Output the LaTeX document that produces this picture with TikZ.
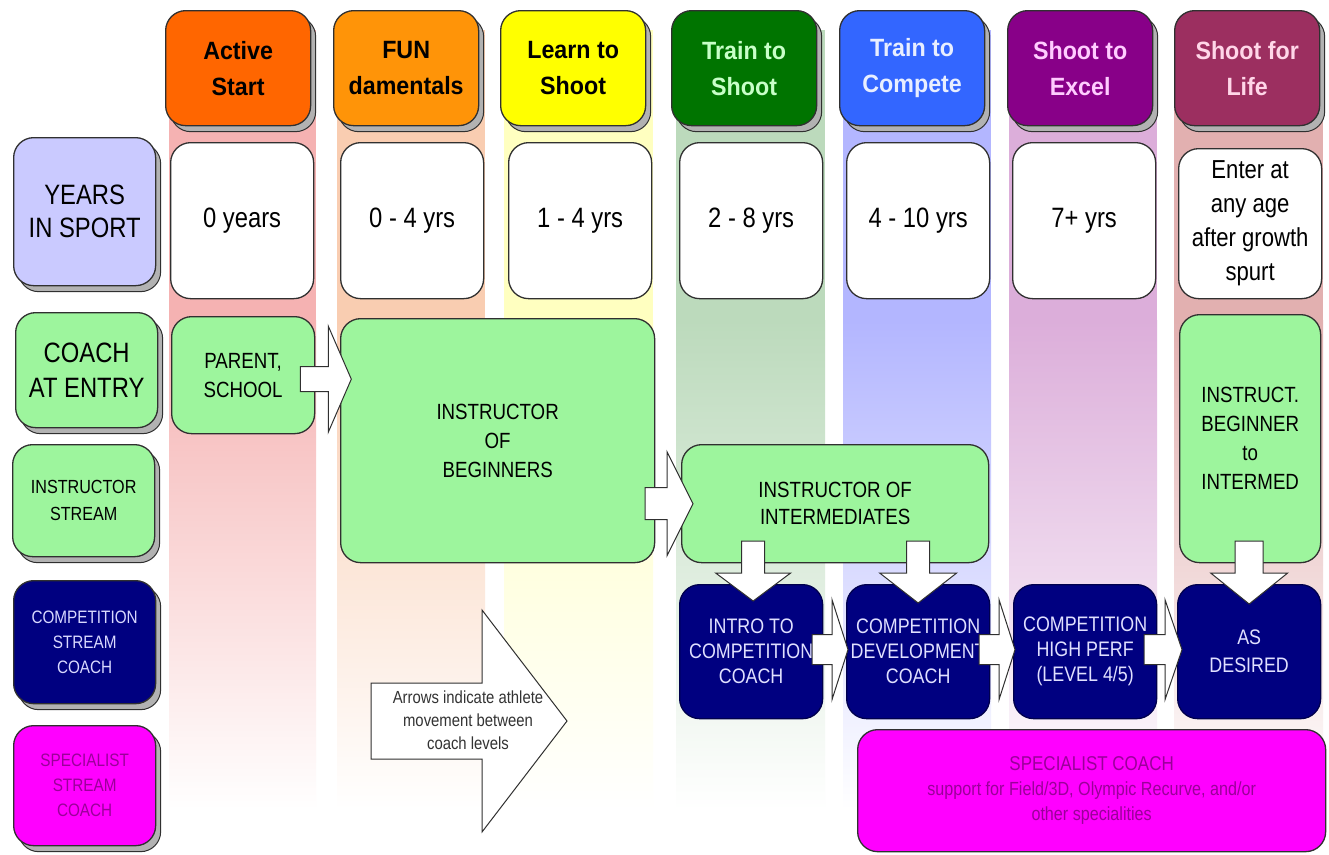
\documentclass[tikz,border=0pt]{standalone}
\usepackage{fontspec}
\setmainfont[FakeStretch=0.85]{Liberation Sans}
\newfontfamily\stagefont[FakeStretch=0.93]{Liberation Sans}
\usetikzlibrary{shadows,calc}

% palette
\definecolor{hdrA}{HTML}{FF6600}
\definecolor{hdrB}{HTML}{FF9408}
\definecolor{hdrC}{HTML}{FFFF00}
\definecolor{hdrD}{HTML}{007400}
\definecolor{hdrE}{HTML}{3366FF}
\definecolor{hdrF}{HTML}{880088}
\definecolor{hdrG}{HTML}{9C2F60}
\definecolor{txtD}{HTML}{C8FFC8}
\definecolor{txtE}{HTML}{E8EEFF}
\definecolor{txtF}{HTML}{FFCCFF}
\definecolor{txtG}{HTML}{FFD6E8}
\definecolor{stA}{HTML}{F5B2B2}
\definecolor{stB}{HTML}{F9CDB1}
\definecolor{stC}{HTML}{FFFFC0}
\definecolor{stD}{HTML}{BCDABC}
\definecolor{stE}{HTML}{B3B6FF}
\definecolor{stF}{HTML}{DCAEDA}
\definecolor{stG}{HTML}{E2B0B0}
\definecolor{lavender}{HTML}{CACAFF}
\definecolor{mint}{HTML}{9DF59D}
\definecolor{navy}{HTML}{000080}
\definecolor{magentabox}{HTML}{FF00FF}
\definecolor{plum}{HTML}{9A0099}
\definecolor{outline}{HTML}{303030}

% a vertical band behind one stage, fading out towards the bottom
\newcommand{\stageband}[3]{%
  \fill[#3] (#1,30) rectangle (#2,320);
  \shade[top color=#3, middle color=#3!55, bottom color=white] (#1,320) rectangle (#2,810);}

% block arrow: tip point, rotation, total length, head length, body half width, head half width
\newcommand{\flowarrow}[6]{%
  \begin{scope}[shift={(#1)}, rotate=#2]
    \draw[blockarrow] (0,0) -- (-#4,#6) -- (-#4,#5) -- (-#3,#5) -- (-#3,-#5)
      -- (-#4,-#5) -- (-#4,-#6) -- cycle;
  \end{scope}}

\tikzset{
  every node/.style={align=center, inner sep=0pt, anchor=north west},
  box/.style={draw=outline, line width=1.3pt, rounded corners=20pt},
  shadowed/.style={general shadow={fill=gray!60, draw=outline, line width=1pt,
      shadow xshift=5pt, shadow yshift=-6pt}},
  stage/.style={box, shadowed, minimum width=145pt, minimum height=115pt,
      font=\stagefont\fontsize{25}{36}\selectfont\bfseries},
  years/.style={box, fill=white, minimum width=143pt, minimum height=156pt,
      font=\fontsize{28}{34}\selectfont},
  rowlabel/.style={box, shadowed, minimum width=142pt},
  coachbox/.style={box, fill=mint, font=\fontsize{22}{29}\selectfont},
  compbox/.style={box, draw=navy!60!black, fill=navy, text=white!88!blue,
      minimum width=143pt, minimum height=134pt, font=\fontsize{21}{25}\selectfont},
  blockarrow/.style={draw=outline, line width=1pt, fill=white, line join=miter},
}

\begin{document}
\begin{tikzpicture}[x=1pt, y=-1pt]
\useasboundingbox (0,0) rectangle (1329,854);
\fill[white] (0,0) rectangle (1329,854);

% stage bands
\stageband{169}{316}{stA}
\stageband{337}{485}{stB}
\stageband{504}{653}{stC}
\stageband{676}{825}{stD}
\stageband{843}{991}{stE}
\stageband{1009}{1157}{stF}
\stageband{1174}{1323}{stG}

% stage headers
\node[stage, fill=hdrA] (active) at (165,10) {Active\\Start};
\node[stage, fill=hdrB] (fun) at (333,10) {FUN\\damentals};
\node[stage, fill=hdrC] (learn) at (500,10) {Learn to\\Shoot};
\node[stage, fill=hdrD, text=txtD] (trainshoot) at (671,10) {Train to\\Shoot};
\node[stage, fill=hdrE, text=txtE] (traincomp) at (839,10) {Train to\\Compete};
\node[stage, fill=hdrF, text=txtF] (excel) at (1007,10) {Shoot to\\Excel};
\node[stage, fill=hdrG, text=txtG] (life) at (1174,10) {Shoot for\\Life};

% years in sport
\node[years] (y1) at (170,142) {0 years};
\node[years] (y2) at (340,142) {0 - 4 yrs};
\node[years] (y3) at (508,142) {1 - 4 yrs};
\node[years] (y4) at (679,142) {2 - 8 yrs};
\node[years] (y5) at (846,142) {4 - 10 yrs};
\node[years] (y6) at (1012,142) {7+ yrs};
\node[years, minimum height=150pt, font=\fontsize{26}{34}\selectfont] (y7) at (1178,148)
  {Enter at\\any age\\after growth\\spurt};

% row labels
\node[rowlabel, fill=lavender, minimum height=148pt,
  font=\fontsize{28}{33}\selectfont] (lyears) at (13,137) {YEARS\\IN SPORT};
\node[rowlabel, fill=mint, minimum height=115pt,
  font=\fontsize{28}{35}\selectfont] (lentry) at (15,312) {COACH\\AT ENTRY};
\node[rowlabel, fill=mint, minimum height=112pt,
  font=\fontsize{19}{27}\selectfont] (linstr) at (12,444) {INSTRUCTOR\\STREAM};
\node[rowlabel, fill=navy, text=white!85!blue, minimum height=123pt,
  font=\fontsize{18}{25}\selectfont] (lcomp) at (13,580) {COMPETITION\\STREAM\\COACH};
\node[rowlabel, fill=magentabox, text=plum, minimum height=120pt,
  font=\fontsize{18}{25}\selectfont] (lspec) at (13,725) {SPECIALIST\\STREAM\\COACH};

% instructor stream
\node[coachbox, minimum width=143pt, minimum height=117pt] (parent) at (171,316)
  {PARENT,\\SCHOOL};
\node[coachbox, minimum width=314pt, minimum height=244pt] (beginners) at (340,318)
  {INSTRUCTOR\\OF\\BEGINNERS};
\node[coachbox, minimum width=307pt, minimum height=118pt,
  font=\fontsize{22}{27}\selectfont] (intermediates) at (681,444)
  {INSTRUCTOR OF\\INTERMEDIATES};
\node[coachbox, minimum width=141pt, minimum height=248pt] (instrlife) at (1179,314)
  {INSTRUCT.\\BEGINNER\\to\\INTERMED};

% competition stream
\node[compbox] (intro) at (679,584) {INTRO TO\\COMPETITION\\COACH};
\node[compbox] (develop) at (846,584) {COMPETITION\\DEVELOPMENT\\COACH};
\node[compbox] (highperf) at (1013,584) {COMPETITION\\HIGH PERF\\(LEVEL 4/5)};
\node[compbox, font=\fontsize{21}{28}\selectfont] (desired) at (1177,584) {AS\\DESIRED};

% specialist stream
\node[box, fill=magentabox, text=plum, minimum width=468pt, minimum height=122pt,
  font=\fontsize{19}{25}\selectfont] (specialist) at (857,729)
  {{\fontsize{20}{25}\selectfont SPECIALIST COACH}\\
   support for Field/3D, Olympic Recurve, and/or\\
   other specialities};

% athlete movement between coach levels
\coordinate (tipParent) at ($(parent.east)+(36,4)$);
\coordinate (tipInter) at ($(intermediates.west)+(12,0)$);
\coordinate (tipIntro) at ($(intro.north)+(2,17)$);
\coordinate (tipDevelop) at ($(develop.north)+(0,19)$);
\coordinate (tipDesired) at ($(desired.north)+(0,20)$);
\coordinate (tipDevelopW) at ($(develop.west)+(2,-2)$);
\coordinate (tipHighW) at ($(highperf.west)+(2,-2)$);
\coordinate (tipDesiredW) at ($(desired.west)+(5,-2)$);

\flowarrow{tipParent}{0}{51}{23}{12.5}{53}
\flowarrow{tipInter}{0}{48}{26}{16}{52}
\flowarrow{tipIntro}{-90}{60}{28}{11.5}{37.5}
\flowarrow{tipDevelop}{-90}{62}{30}{11.5}{38.5}
\flowarrow{tipDesired}{-90}{63}{31}{14}{38.5}
\flowarrow{tipDevelopW}{0}{36}{16}{15}{50}
\flowarrow{tipHighW}{0}{36}{16}{15}{50}
\flowarrow{tipDesiredW}{0}{38}{17}{15}{50}

% legend arrow
\coordinate (legendTip) at (567,721);
\flowarrow{legendTip}{0}{196}{85}{38}{111}
\node[anchor=center, text=black!80, font=\fontsize{17.5}{23}\selectfont] (legend)
  at (468,720) {Arrows indicate athlete\\movement between\\coach levels};
\end{tikzpicture}
\end{document}
